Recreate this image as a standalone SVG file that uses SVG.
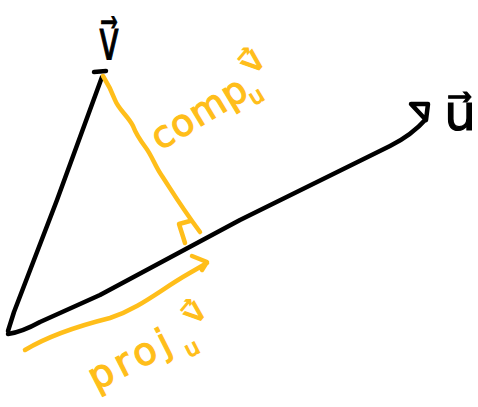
<svg xmlns="http://www.w3.org/2000/svg" width="478" height="407" viewBox="0 0 478 407">
<style>
.k{fill:none;stroke:#000;stroke-width:4.5;stroke-linecap:round;stroke-linejoin:round}
.o{fill:none;stroke:#FFBE1A;stroke-width:4.5;stroke-linecap:round;stroke-linejoin:round}
.tk{fill:#000;stroke:#000;stroke-width:1.2;font-family:"DejaVu Sans",sans-serif}
.to{fill:#FFBE1A;stroke:#FFBE1A;stroke-width:1.2;font-family:"DejaVu Sans",sans-serif}
</style>
<rect width="478" height="407" fill="#fff"/>
<g id="connectors">
<path id="vec-v" class="k" d="M8,331 L14,312 L57,200 L102,77 M94,72 L106,71"/>
<path id="vec-u" class="k" d="M8,334 Q22,332 40,322 L100,295 L240,220 L390,146 Q412,135 426,119 M426,120 L428,104 L411,104 Z"/>
<path id="comp-line" class="o" d="M103,76 C108,84 112,92 115,100 C119,110 128,116 133,126 C136,134 140,140 146,148 C152,156 155,166 162,176 C170,188 180,205 200,232"/>
<path id="right-angle" class="o" d="M190,221 L179,224 L185,243"/>
<path id="proj-arrow" class="o" d="M25,350 C45,338 70,328 110,318 C140,308 160,290 188,274 L207,263 M192,256 L207,262 L202,270"/>
</g>
<g id="label-v"><text class="tk" font-size="56" text-anchor="middle" transform="translate(109,59) scale(0.62,1)">v⃗</text></g>
<g id="label-u"><text class="tk" font-size="50" text-anchor="middle" transform="translate(460,130)">u⃗</text></g>
<g id="label-comp">
<text class="to" font-size="37" letter-spacing="1" transform="translate(160,151) rotate(-31)">comp</text>
<text class="to" font-size="22" transform="translate(254,106) rotate(-31)">u</text>
<text class="to" font-size="34" transform="translate(254,76) rotate(-50)">v⃗</text>
</g>
<g id="label-proj">
<text class="to" font-size="38" letter-spacing="5" transform="translate(96,391) rotate(-27)">proj</text>
<text class="to" font-size="22" transform="translate(189,358) rotate(-27)">u</text>
<text class="to" font-size="32" transform="translate(196,326) rotate(-50)">v⃗</text>
</g>
</svg>
